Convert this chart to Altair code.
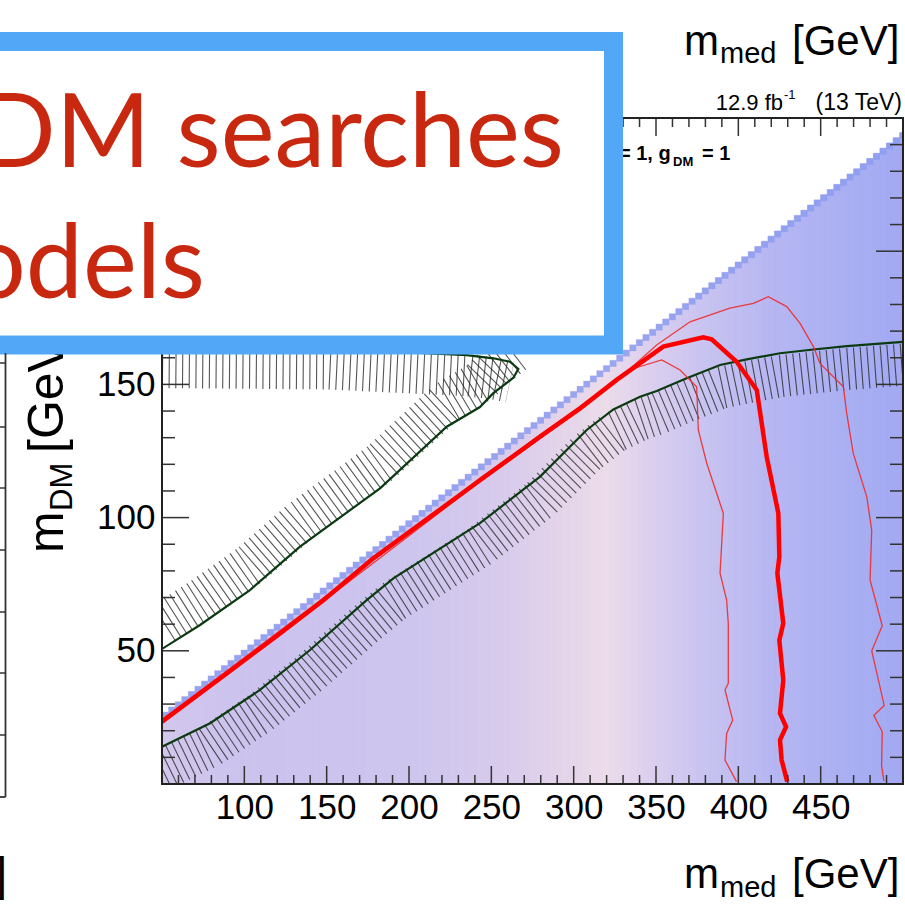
import altair as alt
import numpy as np
import pandas as pd

# ---------------- data ----------------
# observed exclusion contour (thick red)
OBS_MMED = [50, 89.3, 119.7, 148, 178.3, 243.1, 279.6, 303.9, 326.1, 354.4, 378.7, 383.8, 399, 411.2, 414.2,
            417.2, 424.3, 424.9, 423.7, 427.3, 424.9, 427.3, 425.3, 429, 425.3, 426.3, 429.7]
OBS_MDM = [23.4, 41.5, 55.6, 69, 84.7, 114, 130.4, 141, 151.7, 164.2, 167.7, 166.9, 158.5, 147.9, 135.4,
           122.9, 101.6, 85.3, 79.1, 60.3, 54, 39, 26.5, 21.5, 16.5, 9, 0.9]
# expected -1 sigma (inner thin red)
EXP_IN_MMED = [50, 148, 243, 304, 334, 353.5, 364.6, 374.7, 375.7, 380.8, 390.9, 388.9, 392.9, 393.9, 393.9,
               391.9, 396.6, 392.9, 391.9, 398.9]
EXP_IN_MDM = [22.8, 68.6, 113.5, 140.6, 155.5, 159.2, 155.4, 149.1, 132.9, 120.4, 101.6, 79.1, 69, 60.3, 37.8,
              35.3, 24, 19, 9, 0.9]
# expected +1 sigma (outer thin red)
EXP_OUT_MMED = [50, 148, 243, 304, 330, 350.4, 370.7, 394.9, 409.1, 418.2, 429.4, 437.5, 445.6, 449.6, 463.8,
                465.8, 469.8, 478, 481, 480, 487.4, 481, 488.6, 482.3, 487.4, 487, 488.4]
EXP_OUT_MDM = [24.2, 69.8, 114.8, 141.8, 153.5, 164.8, 173.5, 178.6, 180.4, 182.9, 179.2, 172.9, 164.2, 157.9,
               149.1, 139.2, 124.1, 107.8, 95.3, 76.6, 59.4, 50, 29.5, 25.8, 19.6, 6.9, 1.2]
# relic density contours (dark green)
RELIC_LOW_MMED = [50, 79.2, 109.5, 139.9, 174.3, 190.5, 243.1, 279.6, 307.9, 324.1, 340.3, 350.4, 368.6,
                  388.9, 405.1, 425.3, 445.6, 465.8, 500]
RELIC_LOW_MDM = [14, 22.8, 35.3, 50.3, 69, 77.2, 97.9, 115.4, 132.9, 140.6, 145.4, 147.5, 152.3,
                 157.3, 159.4, 161.7, 163.1, 164.4, 166]
RELIC_TOP_MMED = [50, 150, 235, 251.2, 261.3, 266.4]
RELIC_TOP_MDM = [164, 163.5, 161, 159.8, 158.5, 155.8]
RELIC_DIAG_MMED = [266.4, 263.4, 251.2, 243.1, 222.9, 182.4, 133.8, 103.4, 73.1, 50]
RELIC_DIAG_MDM = [155.8, 152.5, 146.7, 141.5, 134.1, 111, 89.1, 72.8, 59.7, 50.7]
# upper edge of the computed grid (kinematic limit) and grid bin width
EDGE_MMED = [50, 500]
EDGE_MDM = [26, 244.5]
GRID_STEP = 4
# colour of the signal-strength map along m_med
CMAP_MMED = [50, 100, 200, 260, 300, 320, 345, 380, 420, 460, 500]
CMAP_HEX = ["#d2c6ec", "#cbc3ee", "#cdc5ee", "#d8cbec", "#e6d6ea", "#ecdcea", "#dcd0ee", "#c8c3f0",
            "#b6b6f2", "#abb0f2", "#a2a9f2"]
# axes
X_LABELS = [100, 150, 200, 250, 300, 350, 400, 450]
Y_LABELS = [50, 100, 150, 200]
X_MAJOR = [50, 100, 150, 200, 250, 300, 350, 400, 450, 500]
X_MINOR = [v for v in range(50, 501, 10) if v % 50]
Y_MAJOR = [0, 50, 100, 150, 200, 250]
Y_MINOR = [v for v in range(0, 251, 10) if v % 50]
LEFT_PANEL_TICKS_PX = [363, 427, 488, 550, 612, 673, 735]

# ---------------- layout ----------------
X0, Y0 = 162, 118
W, H = 741, 666
FONT = "Liberation Sans"
BLUE = "#52a8f7"
RED_TXT = "#c8280f"

xs = alt.Scale(domain=[50, 500], nice=False, zero=False)
ys = alt.Scale(domain=[0, 250], nice=False, zero=False)
xax = alt.Axis(values=X_LABELS, labelFontSize=35, labelFont=FONT, labelColor="black", ticks=False,
               domain=False, grid=False, title=None, labelPadding=6, labelFlush=False)
yax = alt.Axis(values=Y_LABELS, labelFontSize=35, labelFont=FONT, labelColor="black", ticks=False,
               domain=False, grid=False, title=None, labelPadding=7)


def X(f):
    return alt.X(f, scale=xs, axis=xax)


def Y(f):
    return alt.Y(f, scale=ys, axis=yax)


def curve(mx, my):
    return pd.DataFrame({"m_med": mx, "m_dm": my, "i": range(len(mx))})


def enc_xy(ch):
    return ch.encode(x=X("m_med:Q"), y=Y("m_dm:Q"), order=alt.Order("i:Q"))


# colour map columns
cols = pd.DataFrame({"m0": np.arange(50, 500, GRID_STEP, dtype=float)})
cols["m1"] = np.minimum(cols["m0"] + GRID_STEP, 500)
cols["mc"] = cols["m0"] + GRID_STEP / 2
cols["top"] = np.interp(cols["mc"], EDGE_MMED, EDGE_MDM)
cols["cap"] = cols["top"] - 2.4
cols["bot"] = 0.0
cscale = alt.Scale(domain=CMAP_MMED, range=CMAP_HEX, interpolate="rgb")

cmap = alt.Chart(cols).mark_rect(strokeWidth=0.8, clip=True).encode(
    x=X("m0:Q"), x2="m1:Q", y=Y("bot:Q"), y2="top:Q",
    color=alt.Color("mc:Q", scale=cscale, legend=None),
    stroke=alt.Stroke("mc:Q", scale=cscale, legend=None),
)
# bluish shading that follows the kinematic edge
edge = pd.DataFrame({"m_med": EDGE_MMED, "m_dm": EDGE_MDM, "zero": [0, 0], "i": [0, 1]})
edge_shade = alt.Chart(edge).mark_area(
    clip=True,
    color=alt.Gradient(
        gradient="linear", x1=0.5, y1=0.447, x2=0.63, y2=0.6,
        stops=[alt.GradientStop(color="rgba(135,150,240,0.45)", offset=0),
               alt.GradientStop(color="rgba(135,150,240,0)", offset=1)],
    ),
).encode(x=X("m_med:Q"), y=Y("m_dm:Q"), y2="zero:Q", order=alt.Order("i:Q"))
caps = alt.Chart(cols).mark_rect(fill="#8c9cf0", opacity=0.85, clip=True).encode(
    x=X("m0:Q"), x2="m1:Q", y=Y("cap:Q"), y2="top:Q"
)


def hatch(df, yoff):
    return enc_xy(alt.Chart(df).mark_line(stroke="#2a2a2a", strokeWidth=42, strokeDash=[1.1, 5.6],
                                          strokeCap="butt", yOffset=yoff, opacity=0.8, clip=True))


relic_low = curve(RELIC_LOW_MMED, RELIC_LOW_MDM)
relic_top = curve(RELIC_TOP_MMED, RELIC_TOP_MDM)
relic_diag = curve(RELIC_DIAG_MMED, RELIC_DIAG_MDM)
relic_all = curve(RELIC_TOP_MMED + RELIC_DIAG_MMED[1:], RELIC_TOP_MDM + RELIC_DIAG_MDM[1:])
# hatch bands stop just short of the wedge tip so the dashes do not pile up there
relic_top_h = curve(RELIC_TOP_MMED[:-1], RELIC_TOP_MDM[:-1])
relic_diag_h = curve(RELIC_DIAG_MMED[1:], RELIC_DIAG_MDM[1:])

layers = [cmap, edge_shade, caps,
          hatch(relic_low, 23), hatch(relic_top_h, 20), hatch(relic_diag_h, -25)]
for d in (relic_low, relic_all):
    layers.append(enc_xy(alt.Chart(d).mark_line(color="#0b3a10", strokeWidth=2.2, clip=True)))
for mx, my in ((EXP_IN_MMED, EXP_IN_MDM), (EXP_OUT_MMED, EXP_OUT_MDM)):
    layers.append(enc_xy(alt.Chart(curve(mx, my)).mark_line(color="#f02a2a", strokeWidth=1.3,
                                                            opacity=0.9, clip=True)))
layers.append(enc_xy(alt.Chart(curve(OBS_MMED, OBS_MDM)).mark_line(color="#ff0000", strokeWidth=4.5,
                                                                    clip=True)))


# inward ticks on all four sides
def xticks(vals, ln):
    d = pd.DataFrame({"v": vals})
    b = alt.Chart(d).mark_rule(color="#333333", strokeWidth=1.5)
    return [b.encode(x=X("v:Q"), y=alt.value(H), y2=alt.value(H - ln)),
            b.encode(x=X("v:Q"), y=alt.value(0), y2=alt.value(ln))]


def yticks(vals, ln):
    d = pd.DataFrame({"v": vals})
    b = alt.Chart(d).mark_rule(color="#333333", strokeWidth=1.5)
    return [b.encode(y=Y("v:Q"), x=alt.value(0), x2=alt.value(ln)),
            b.encode(y=Y("v:Q"), x=alt.value(W), x2=alt.value(W - ln))]


layers += xticks(X_MAJOR, 18) + xticks(X_MINOR, 9) + yticks(Y_MAJOR, 27) + yticks(Y_MINOR, 13)

one = pd.DataFrame({"a": [0]})
layers.append(alt.Chart(one).mark_rect(filled=False, stroke="#222222", strokeWidth=2).encode(
    x=alt.value(0), x2=alt.value(W), y=alt.value(0), y2=alt.value(H)))


def txt(s, px, py, size, align="left", font=FONT, color="black", weight="normal", angle=0):
    return alt.Chart(pd.DataFrame({"t": [s]})).mark_text(
        align=align, baseline="alphabetic", font=font, fontSize=size, color=color,
        fontWeight=weight, angle=angle).encode(x=alt.value(px - X0), y=alt.value(py - Y0), text="t:N")


# axis titles and labels of the ROOT canvas
for base, sub_base in ((888, 897), (55, 63)):
    layers.append(txt("m", 684, base, 42))
    layers.append(txt("med", 720, sub_base, 29))
    layers.append(txt("[GeV]", 792, base, 42))
layers.append(txt("m", 63, 553, 50, angle=270))
layers.append(txt("DM", 72, 511, 31, angle=270))
layers.append(txt("[GeV]", 63, 453, 50, angle=270))
layers.append(txt("12.9 fb", 783, 110, 22, align="right"))
layers.append(txt("-1", 784, 99, 13))
layers.append(txt("(13 TeV)", 902, 110, 23, align="right"))
layers.append(txt("= 1, g", 619, 160, 20, weight="bold"))
layers.append(txt("DM", 673, 166, 13, weight="bold"))
layers.append(txt("= 1", 702, 160, 20, weight="bold"))

# slide overlay box (drawn over the figure)
layers.append(alt.Chart(one).mark_rect(fill="white", stroke=BLUE, strokeWidth=19).encode(
    x=alt.value(-220 - X0), x2=alt.value(613.5 - X0), y=alt.value(41.5 - Y0), y2=alt.value(345 - Y0)))
layers.append(txt("DM searches", 564, 167, 102, align="right", font="Lato", color=RED_TXT))
layers.append(txt("odels", 205, 298, 102, align="right", font="Lato", color=RED_TXT))

# neighbouring (cropped) panel on the left
layers.append(alt.Chart(one).mark_rule(color="#333333", strokeWidth=1.8).encode(
    x=alt.value(5.5 - X0), y=alt.value(353 - Y0), y2=alt.value(797 - Y0)))
layers.append(alt.Chart(one).mark_rule(color="#333333", strokeWidth=1.8).encode(
    x=alt.value(-X0), x2=alt.value(5.5 - X0), y=alt.value(797 - Y0)))
for p in LEFT_PANEL_TICKS_PX:
    layers.append(alt.Chart(one).mark_rule(color="#333333", strokeWidth=1.5).encode(
        y=alt.value(p - Y0), x=alt.value(-X0), x2=alt.value(5.5 - X0)))
layers.append(txt("]", 7, 890, 46, align="right"))

chart = alt.layer(*layers).properties(
    width=W, height=H,
    autosize=alt.AutoSizeParams(type="none"),
    padding={"left": X0, "top": Y0, "right": 905 - X0 - W, "bottom": 904 - Y0 - H},
    background="white",
).configure_view(stroke=None)

chart.save("out.html", embed_options={"renderer": "svg", "actions": False})
